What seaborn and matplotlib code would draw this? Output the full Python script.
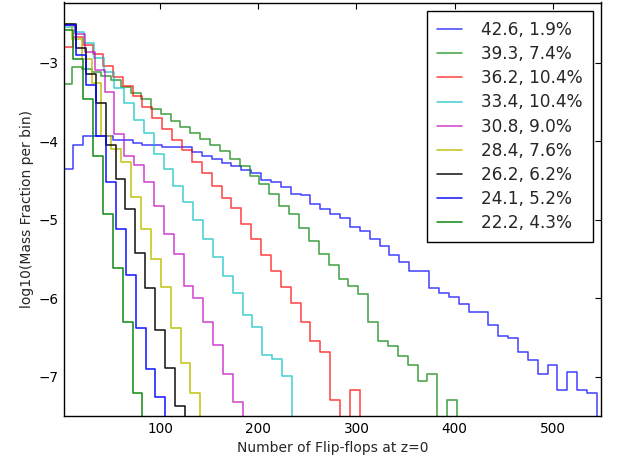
import numpy as np
import pandas as pd
import matplotlib
matplotlib.use("Agg")
import matplotlib.pyplot as plt
import seaborn as sns

# ---------------- data ----------------
labels = ["42.6, 1.9%", "39.3, 7.4%", "36.2, 10.4%", "33.4, 10.4%", "30.8, 9.0%",
          "28.4, 7.6%", "26.2, 6.2%", "24.1, 5.2%", "22.2, 4.3%"]
# first interior bin edge of each histogram (number of flip-flops) and bin width
first_edge = [11.7, 10.1, 11.7, 13.0, 13.3, 10.2, 14.5, 14.8, 11.7]
bin_width = 10.06
x_range = [2.2, 549.0]

# log10(mass fraction per bin); None = empty bin
h426 = [-4.35, -4.05, -3.94, -3.93, -3.94, -3.98, -3.98, -4.02, -4.045, -4.045,
        -4.07, -4.07, -4.07, -4.14, -4.19, -4.23, -4.28, -4.32, -4.37, -4.40,
        -4.50, -4.52, -4.59, -4.67, -4.69, -4.80, -4.86, -4.93, -4.98, -5.09,
        -5.15, -5.25, -5.33, -5.45, -5.54, -5.65, -5.66, -5.87, -5.94, -5.99,
        -6.07, -6.18, -6.18, -6.34, -6.48, -6.51, -6.68, -6.79, -6.96, -6.85,
        -7.17, -6.94, -7.17, -7.21]
h393 = [-3.27, -3.05, -3.08, -3.12, -3.17, -3.22, -3.31, -3.39, -3.47, -3.59,
        -3.65, -3.75, -3.82, -3.90, -3.97, -4.05, -4.13, -4.23, -4.32, -4.44,
        -4.54, -4.67, -4.83, -4.93, -5.10, -5.27, -5.44, -5.58, -5.76, -5.85,
        -5.95, -6.30, -6.54, -6.61, -6.74, -6.85, -7.05, -6.97, None, -7.30]
h362 = [-2.80, -2.68, -2.78, -2.89, -3.04, -3.18, -3.30, -3.42, -3.57, -3.71,
        -3.85, -3.98, -4.11, -4.26, -4.40, -4.57, -4.72, -4.85, -5.06, -5.24,
        -5.45, -5.66, -5.86, -6.06, -6.30, -6.54, -6.68, -7.30, None, -7.17]
h334 = [-2.55, -2.61, -2.75, -2.94, -3.12, -3.33, -3.52, -3.73, -3.90, -4.16,
        -4.36, -4.57, -4.77, -5.00, -5.24, -5.48, -5.72, -5.94, -6.22, -6.37,
        -6.72, -6.78, -6.99]
h308 = [-2.52, -2.63, -2.86, -3.09, -3.37, -3.91, -4.19, -4.30, -4.52, -4.83,
        -5.18, -5.44, -5.84, -6.00, -6.30, -6.60, -6.97, -7.32]
h284 = [-2.51, -2.70, -2.96, -3.26, -3.94, -4.10, -4.26, -4.71, -5.12, -5.50,
        -5.86, -6.38, -6.83, -7.21]
h262 = [-2.51, -2.81, -3.14, -3.52, -4.05, -4.48, -4.87, -5.43, -5.87, -6.40,
        -6.89, -7.37]
h241 = [-2.52, -2.90, -3.28, -3.93, -4.52, -5.12, -5.71, -6.38, -6.90, -7.26]
h222 = [-2.58, -2.96, -3.46, -4.19, -4.93, -5.61, -6.30, -7.21]

series = [h426, h393, h362, h334, h308, h284, h262, h241, h222]
x_ticks = [100, 200, 300, 400, 500]
y_ticks = [-7, -6, -5, -4, -3]
y_range = [-7.5, -2.235]

# ---------------- style ----------------
sns.set_style("white")
plt.rcParams.update({
    "font.family": ["DejaVu Sans"],
    "axes.edgecolor": "black",
    "axes.linewidth": 1.0,
    "xtick.direction": "in",
    "ytick.direction": "in",
    "xtick.top": True,
    "ytick.right": True,
    "xtick.major.size": 4,
    "ytick.major.size": 4,
    "xtick.color": "black",
    "ytick.color": "black",
})
colors = ["#0000ff", "#008000", "#ff0000", "#00bfbf", "#bf00bf",
          "#bfbf00", "#000000", "#0000ff", "#008000"]
alphas = [0.72, 0.72, 0.72, 0.72, 0.72, 0.9, 0.9, 0.9, 0.9]

fig = plt.figure(figsize=(6.19, 4.63), dpi=100)
ax = fig.add_axes([64 / 619, 1 - 416 / 463, (601 - 64) / 619, (416 - 2.5) / 463])

below = y_range[0] - 5
for lab, fe, vals, col, a in zip(labels, first_edge, series, colors, alphas):
    n = len(vals)
    xs = [x_range[0]] + [fe + bin_width * k for k in range(n)]
    ys = [v if v is not None else below for v in vals] + [below]
    df = pd.DataFrame({"x": xs, "y": ys})
    sns.lineplot(data=df, x="x", y="y", drawstyle="steps-post", color=col,
                 alpha=a, lw=1.15, label=lab, ax=ax, estimator=None, sort=False)

ax.set_xlim(*x_range)
ax.set_ylim(*y_range)
ax.set_xticks(x_ticks)
ax.set_yticks(y_ticks)
ax.tick_params(labelsize=9.8, width=0.8, pad=4)
ax.set_xlabel("Number of Flip-flops at z=0", fontsize=10, labelpad=4)
ax.set_ylabel("log10(Mass Fraction per bin)", fontsize=10, labelpad=3)

leg = ax.legend(loc="upper right", fontsize=12.2, frameon=True, fancybox=False,
                framealpha=1, edgecolor="black", handlelength=1.5,
                handletextpad=1.1, labelspacing=0.36, borderpad=0.6,
                borderaxespad=0.5)
leg.get_frame().set_linewidth(1.0)

fig.savefig("out.png", dpi=100)
